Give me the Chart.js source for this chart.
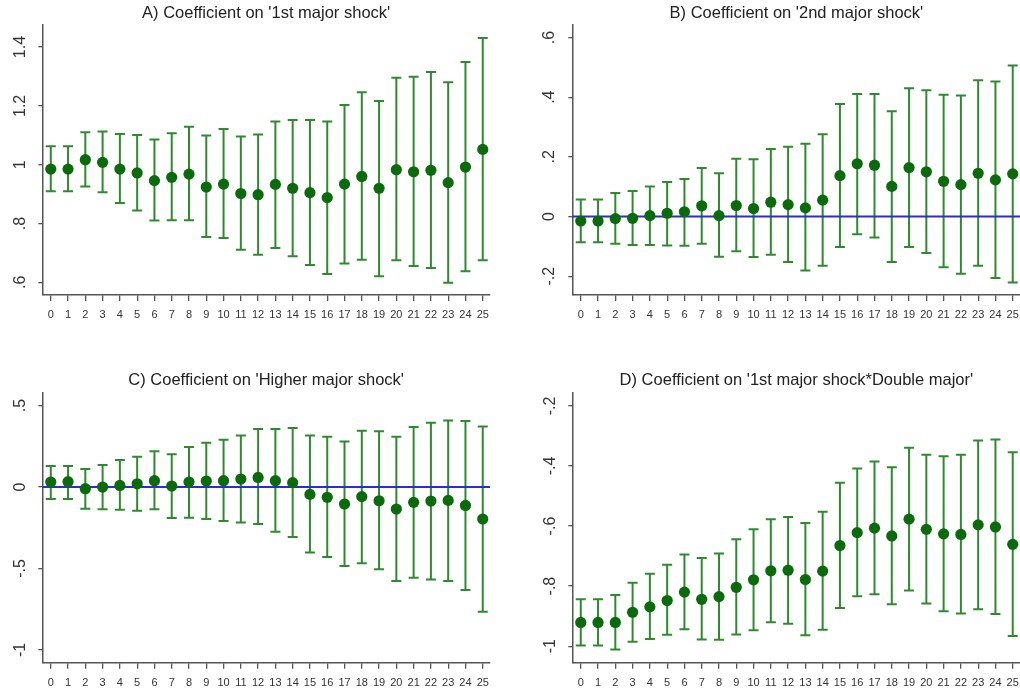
<!DOCTYPE html>
<html>
<head>
<meta charset="utf-8">
<script src="https://cdn.jsdelivr.net/npm/chart.js@4.4.1/dist/chart.umd.min.js"></script>
<style>
  html, body { margin: 0; padding: 0; background: #fff; overflow: hidden; width: 1020px; height: 693px; }
  canvas { position: absolute; }
</style>
</head>
<body>
<canvas id="panelA" width="510" height="346" style="left:0;top:0"></canvas>
<canvas id="panelB" width="530" height="346" style="left:510px;top:0"></canvas>
<canvas id="panelC" width="510" height="347" style="left:0;top:346px"></canvas>
<canvas id="panelD" width="530" height="347" style="left:510px;top:346px"></canvas>
<script>
// Horizons on the x axis
const horizons = [0,1,2,3,4,5,6,7,8,9,10,11,12,13,14,15,16,17,18,19,20,21,22,23,24,25];

// A) 1st major shock: estimate and 95% bounds
const coefA = [0.985,0.985,1.017,1.008,0.985,0.972,0.946,0.957,0.968,0.924,0.934,0.902,0.898,0.933,0.920,0.905,0.888,0.934,0.960,0.920,0.983,0.976,0.981,0.939,0.992,1.052];
const lowA  = [0.910,0.910,0.926,0.906,0.870,0.844,0.810,0.811,0.811,0.754,0.751,0.711,0.694,0.717,0.689,0.659,0.628,0.664,0.677,0.621,0.675,0.656,0.649,0.599,0.638,0.675];
const highA = [1.063,1.063,1.110,1.113,1.104,1.101,1.086,1.107,1.129,1.099,1.121,1.096,1.103,1.147,1.152,1.152,1.147,1.203,1.246,1.217,1.296,1.299,1.315,1.280,1.349,1.431];

// B) 2nd major shock
const coefB = [-0.015,-0.015,-0.007,-0.006,0.003,0.011,0.016,0.036,0.003,0.037,0.027,0.048,0.040,0.029,0.055,0.137,0.177,0.172,0.101,0.164,0.150,0.118,0.107,0.145,0.123,0.143];
const lowB  = [-0.086,-0.086,-0.091,-0.095,-0.095,-0.097,-0.098,-0.091,-0.135,-0.116,-0.136,-0.128,-0.152,-0.181,-0.165,-0.102,-0.059,-0.070,-0.152,-0.102,-0.122,-0.170,-0.192,-0.165,-0.206,-0.221];
const highB = [0.057,0.057,0.079,0.086,0.101,0.116,0.126,0.163,0.145,0.194,0.192,0.226,0.234,0.244,0.276,0.377,0.411,0.411,0.353,0.430,0.423,0.408,0.406,0.457,0.453,0.506];

// C) Higher major shock
const coefC = [0.031,0.033,-0.010,0.000,0.010,0.020,0.039,0.006,0.031,0.037,0.039,0.049,0.059,0.039,0.027,-0.045,-0.063,-0.104,-0.059,-0.084,-0.135,-0.094,-0.086,-0.082,-0.113,-0.196];
const lowC  = [-0.074,-0.074,-0.133,-0.137,-0.139,-0.145,-0.137,-0.190,-0.188,-0.196,-0.209,-0.217,-0.227,-0.274,-0.307,-0.401,-0.430,-0.485,-0.467,-0.505,-0.577,-0.557,-0.567,-0.577,-0.632,-0.765];
const highC = [0.129,0.129,0.110,0.135,0.166,0.186,0.219,0.201,0.246,0.272,0.291,0.317,0.356,0.356,0.362,0.317,0.309,0.280,0.346,0.342,0.309,0.368,0.395,0.409,0.405,0.372];

// D) 1st major shock * Double major
const coefD = [-0.921,-0.921,-0.921,-0.887,-0.869,-0.848,-0.820,-0.844,-0.835,-0.804,-0.779,-0.749,-0.747,-0.778,-0.750,-0.665,-0.622,-0.607,-0.633,-0.577,-0.611,-0.626,-0.628,-0.596,-0.603,-0.661];
const lowD  = [-0.998,-0.998,-1.011,-0.985,-0.976,-0.962,-0.944,-0.978,-0.979,-0.961,-0.947,-0.920,-0.925,-0.964,-0.945,-0.873,-0.834,-0.827,-0.860,-0.815,-0.858,-0.884,-0.891,-0.877,-0.893,-0.966];
const highD = [-0.844,-0.844,-0.830,-0.789,-0.759,-0.729,-0.695,-0.706,-0.691,-0.644,-0.611,-0.577,-0.570,-0.590,-0.552,-0.456,-0.408,-0.385,-0.404,-0.339,-0.363,-0.368,-0.363,-0.315,-0.312,-0.354];

// Y tick values and their printed labels
const yTicksA = [0.6, 0.8, 1, 1.2, 1.4];
const yLabelsA = ['.6', '.8', '1', '1.2', '1.4'];
const yTicksB = [-0.2, 0, 0.2, 0.4, 0.6];
const yLabelsB = ['-.2', '0', '.2', '.4', '.6'];
const yTicksC = [-1, -0.5, 0, 0.5];
const yLabelsC = ['-1', '-.5', '0', '.5'];
const yTicksD = [-1, -0.8, -0.6, -0.4, -0.2];
const yLabelsD = ['-1', '-.8', '-.6', '-.4', '-.2'];

// Panel titles
const titles = [
  "A) Coefficient on '1st major shock'",
  "B) Coefficient on '2nd major shock'",
  "C) Coefficient on 'Higher major shock'",
  "D) Coefficient on '1st major shock*Double major'"
];

Chart.defaults.font.family = "'Liberation Sans', Arial, sans-serif";
Chart.defaults.animation = false;

const WHISKER = '#2f8a2f';
const DOT = '#0b6a0b';
const ZERO = '#2b2bdc';
const AXIS = '#555555';
const TEXT = '#333333';

function drawPanel(canvasId, p) {
  const n = horizons.length;
  const whiskers = [];
  const caps = [];
  const dots = [];
  for (let i = 0; i < n; i++) {
    whiskers.push({ x: horizons[i], y: p.low[i] }, { x: horizons[i], y: p.high[i] }, { x: horizons[i], y: null });
    caps.push({ x: horizons[i], y: p.low[i] }, { x: horizons[i], y: p.high[i] });
    dots.push({ x: horizons[i], y: p.coef[i] });
  }
  const datasets = [
    { data: whiskers, showLine: true, spanGaps: false, borderColor: WHISKER, borderWidth: 2, pointRadius: 0, order: 3 },
    { data: caps, showLine: false, pointStyle: 'line', pointRadius: 5, borderColor: WHISKER, pointBorderWidth: 2, order: 3 },
    { data: dots, showLine: false, pointRadius: 5.6, pointBackgroundColor: DOT, pointBorderWidth: 0, order: 1 }
  ];
  if (p.zeroLine) {
    datasets.push({ data: [{ x: p.xMin, y: 0 }, { x: p.xMax, y: 0 }], showLine: true, borderColor: ZERO, borderWidth: 2, pointRadius: 0, order: 2 });
  }
  new Chart(document.getElementById(canvasId), {
    type: 'scatter',
    data: { datasets },
    options: {
      responsive: false,
      events: [],
      layout: { padding: { left: 0, right: p.padRight, top: 0, bottom: 0 } },
      plugins: {
        legend: { display: false },
        tooltip: { enabled: false },
        title: {
          display: true,
          text: p.title,
          fullSize: false,
          color: '#222',
          font: { size: 16.5, weight: 'normal' },
          padding: { top: p.titleTop, bottom: p.titleBottom }
        }
      },
      scales: {
        x: {
          type: 'linear',
          min: p.xMin,
          max: p.xMax,
          afterBuildTicks: s => { s.ticks = horizons.map(v => ({ value: v })); },
          afterFit: s => { s.height = p.xAxisHeight; },
          ticks: { autoSkip: false, maxRotation: 0, minRotation: 0, padding: 7.5, color: TEXT, font: { size: 11 },
                   callback: (v, i) => String(horizons[i]) },
          grid: { drawOnChartArea: false, drawTicks: true, tickLength: 6, color: AXIS, lineWidth: 1.3 },
          border: { display: true, color: AXIS, width: 1.5 }
        },
        y: {
          type: 'linear',
          min: p.yMin,
          max: p.yMax,
          afterBuildTicks: s => { s.ticks = p.yTicks.map(v => ({ value: v })); },
          afterFit: s => { s.width = p.plotLeft; },
          ticks: { minRotation: 90, maxRotation: 90, crossAlign: 'center', padding: p.yPad, color: TEXT, font: { size: 16 },
                   callback: (v, i) => p.yLabels[i] },
          grid: { drawOnChartArea: false, drawTicks: true, tickLength: 4, color: AXIS, lineWidth: 1.3 },
          border: { display: true, color: AXIS, width: 1.5 }
        }
      }
    }
  });
}

drawPanel('panelA', { title: titles[0], coef: coefA, low: lowA, high: highA, yTicks: yTicksA, yLabels: yLabelsA,
  yMin: 0.557, yMax: 1.475, xMin: -0.49, xMax: 25.42, plotLeft: 42.3, padRight: 20,
  titleTop: 3.6, titleBottom: 1.6, xAxisHeight: 51, yPad: 7, zeroLine: false });

drawPanel('panelB', { title: titles[1], coef: coefB, low: lowB, high: highB, yTicks: yTicksB, yLabels: yLabelsB,
  yMin: -0.263, yMax: 0.642, xMin: -0.49, xMax: 25.45, plotLeft: 62.3, padRight: 19.5,
  titleTop: 3.6, titleBottom: 1.6, xAxisHeight: 51, yPad: 9, zeroLine: true });

drawPanel('panelC', { title: titles[2], coef: coefC, low: lowC, high: highC, yTicks: yTicksC, yLabels: yLabelsC,
  yMin: -1.078, yMax: 0.579, xMin: -0.49, xMax: 25.42, plotLeft: 42.3, padRight: 20,
  titleTop: 24.4, titleBottom: 2.5, xAxisHeight: 30.3, yPad: 8.3, zeroLine: true });

drawPanel('panelD', { title: titles[3], coef: coefD, low: lowD, high: highD, yTicks: yTicksD, yLabels: yLabelsD,
  yMin: -1.055, yMax: -0.156, xMin: -0.49, xMax: 25.45, plotLeft: 62.3, padRight: 19.5,
  titleTop: 24.4, titleBottom: 2.5, xAxisHeight: 30.3, yPad: 8.3, zeroLine: false });
</script>
</body>
</html>
